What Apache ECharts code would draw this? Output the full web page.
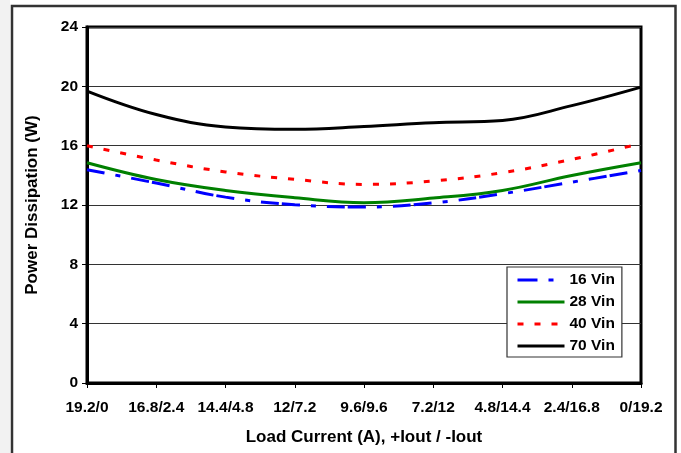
<!DOCTYPE html>
<html>
<head>
<meta charset="utf-8">
<script src="https://cdn.jsdelivr.net/npm/echarts@6/dist/echarts.min.js"></script>
<style>
html,body{margin:0;padding:0;background:#fff;}
#c{width:681px;height:453px;}
</style>
</head>
<body>
<div id="c"></div>
<script>
var categories = ['19.2/0','16.8/2.4','14.4/4.8','12/7.2','9.6/9.6','7.2/12','4.8/14.4','2.4/16.8','0/19.2'];
var vin16 = [14.38, 13.48, 12.53, 12.02, 11.86, 12.14, 12.76, 13.54, 14.33];
var vin28 = [14.85, 13.72, 12.98, 12.49, 12.16, 12.47, 12.98, 13.99, 14.85];
var vin40 = [16.0, 15.03, 14.23, 13.73, 13.39, 13.62, 14.18, 15.07, 16.15];
var vin70 = [19.68, 18.1, 17.26, 17.1, 17.29, 17.55, 17.7, 18.7, 19.95];
var yTicks = {min: 0, max: 24, interval: 4};

var FONT = '"Liberation Sans", Arial, sans-serif';
var chart = echarts.init(document.getElementById('c'), null, {renderer: 'canvas'});

function mk(name, data, color, type, offset) {
  return {
    name: name, type: 'line', data: data, smooth: 0.4,
    symbol: 'none', showSymbol: false,
    lineStyle: {color: color, width: 3, type: type, dashOffset: offset || 0, cap: 'butt'},
    itemStyle: {color: color},
    emphasis: {disabled: true}, animation: false
  };
}

chart.setOption({
  backgroundColor: '#fff',
  animation: false,
  graphic: [
    {type: 'rect', shape: {x: 0, y: 0, width: 10, height: 453}, style: {fill: '#f2f2f2'}, z: -10},
    {type: 'rect', shape: {x: 12, y: 6, width: 663.5, height: 460}, style: {fill: 'none', stroke: '#333', lineWidth: 2.5}, z: 100}
  ],
  grid: {left: 87, right: 40, top: 27, bottom: 70, show: true, borderColor: '#000', borderWidth: 3, backgroundColor: 'transparent'},
  legend: {
    orient: 'vertical', left: 507, top: 267,
    itemWidth: 47, itemHeight: 14, itemGap: 6,
    padding: [5, 7, 3, 9],
    backgroundColor: '#fff', borderColor: '#333', borderWidth: 1.2,
    itemStyle: {opacity: 0},
    lineStyle: {width: 3},
    textStyle: {fontFamily: FONT, fontWeight: 'bold', fontSize: 15.5, color: '#000'},
    data: [
      {name: '16 Vin', lineStyle: {type: [20, 11, 5, 11], dashOffset: 0, width: 3}},
      {name: '28 Vin'},
      {name: '40 Vin', lineStyle: {type: [6, 11], dashOffset: 0, width: 3}},
      {name: '70 Vin'}
    ],
    selectedMode: false
  },
  xAxis: {
    type: 'category', data: categories, boundaryGap: false,
    name: 'Load Current (A), +Iout / -Iout', nameLocation: 'middle', nameGap: 46,
    nameTextStyle: {fontFamily: FONT, fontWeight: 'bold', fontSize: 17, color: '#000'},
    axisLine: {lineStyle: {color: '#000', width: 3}},
    axisTick: {show: true, length: 5, inside: false, interval: 0, lineStyle: {color: '#000', width: 1}},
    axisLabel: {interval: 0, margin: 17, fontFamily: FONT, fontWeight: 'bold', fontSize: 15.5, color: '#000'},
    splitLine: {show: false}
  },
  yAxis: {
    type: 'value', min: yTicks.min, max: yTicks.max, interval: yTicks.interval,
    name: 'Power Dissipation (W)', nameLocation: 'middle', nameGap: 46, nameRotate: 90,
    nameTextStyle: {fontFamily: FONT, fontWeight: 'bold', fontSize: 17, color: '#000'},
    axisLine: {show: true, lineStyle: {color: '#000', width: 3}},
    axisTick: {show: true, length: 5, inside: false, lineStyle: {color: '#000', width: 1}},
    axisLabel: {margin: 9, fontFamily: FONT, fontWeight: 'bold', fontSize: 15.5, color: '#000'},
    splitLine: {show: true, lineStyle: {color: '#333', width: 1}}
  },
  series: [
    mk('16 Vin', vin16, '#0000ff', [18, 3, 18, 11, 5, 11], 21),
    mk('28 Vin', vin28, '#008000', 'solid'),
    mk('40 Vin', vin40, '#ff0000', [6, 11]),
    mk('70 Vin', vin70, '#000000', 'solid')
  ]
});
</script>
</body>
</html>
